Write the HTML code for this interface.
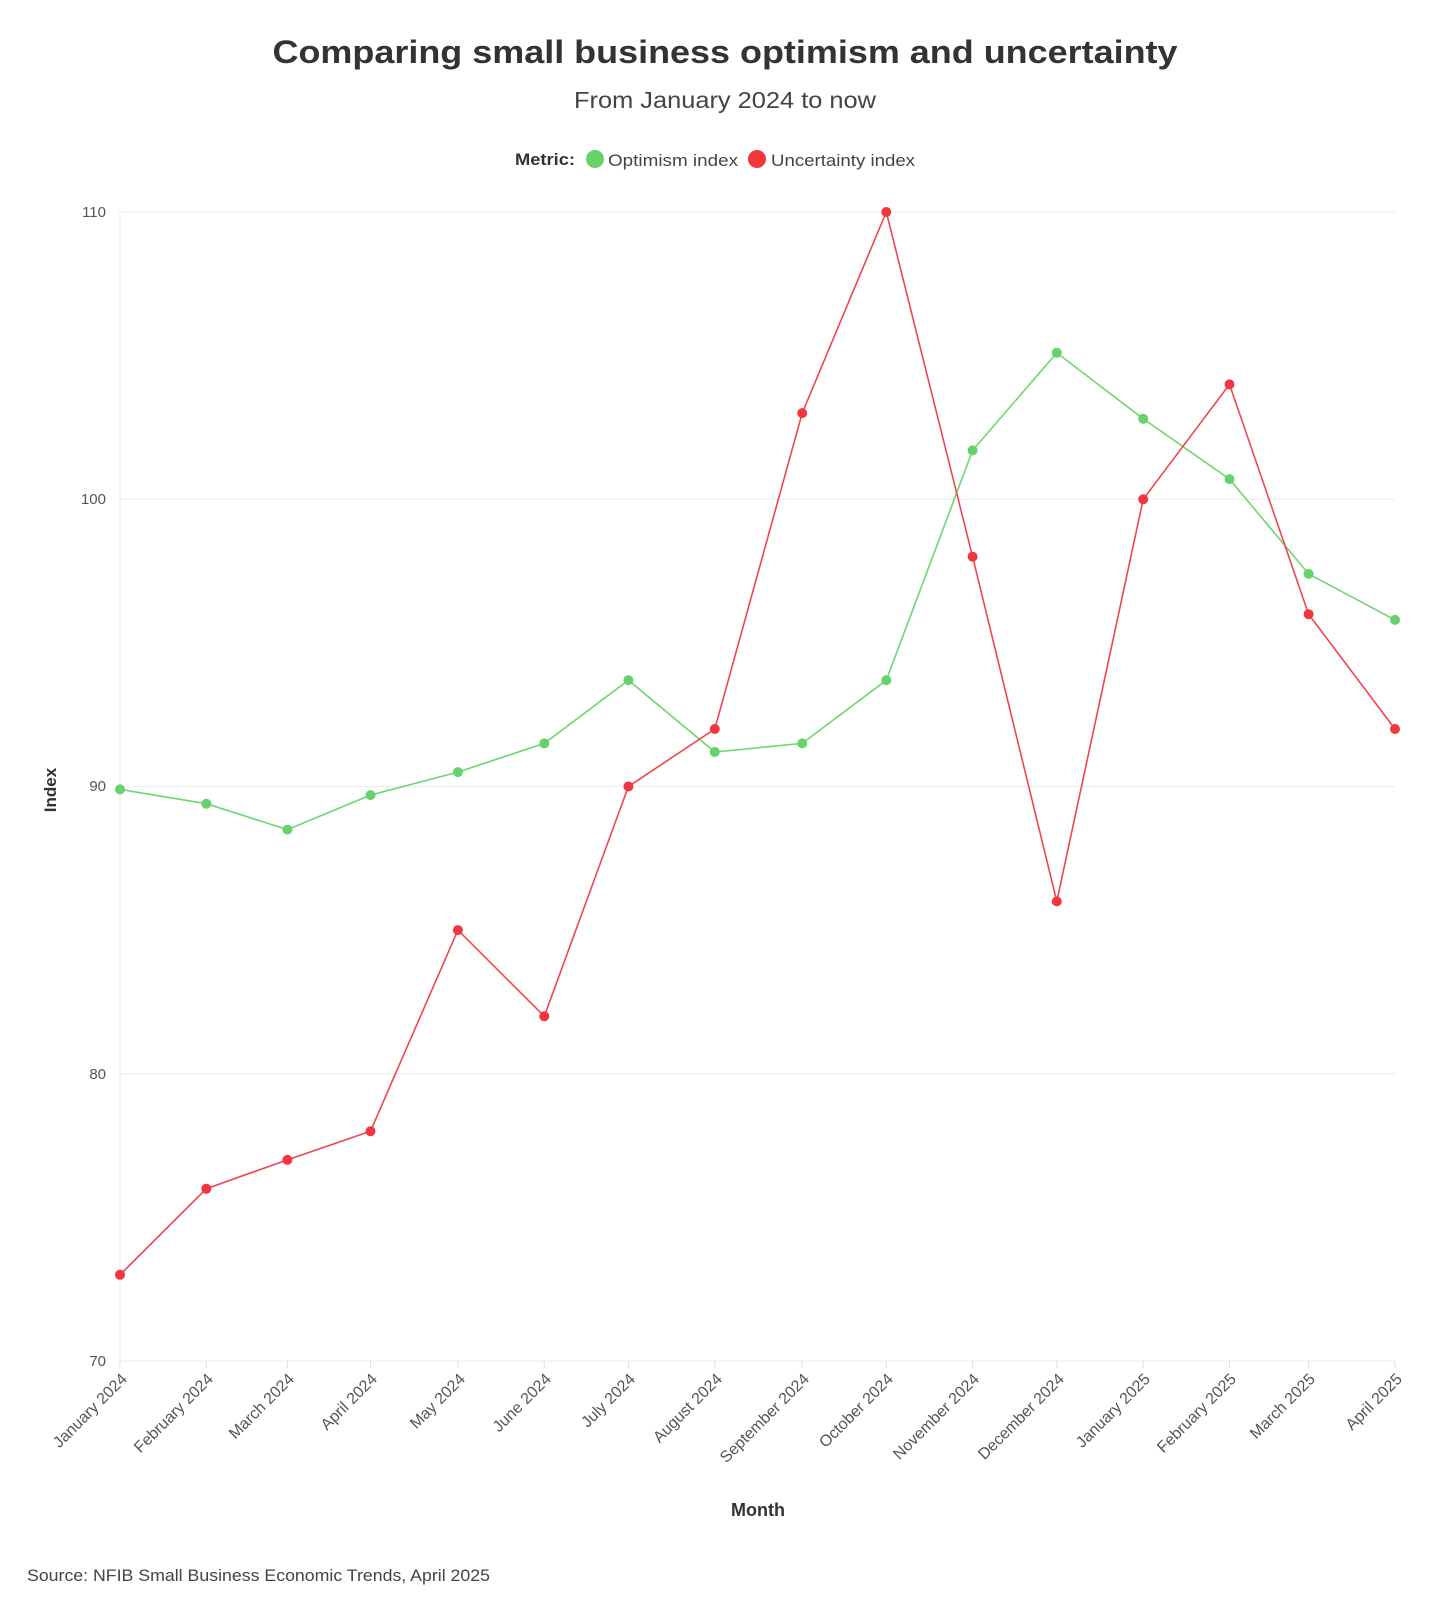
<!DOCTYPE html>
<html><head><meta charset="utf-8"><style>
html,body{margin:0;padding:0;background:#fff;}
svg{display:block;font-family:"Liberation Sans",sans-serif;}
</style></head><body>
<svg width="1440" height="1610" viewBox="0 0 1440 1610" xmlns="http://www.w3.org/2000/svg">
<text x="725" y="63" text-anchor="middle" font-size="32" font-weight="bold" fill="#333" textLength="905" lengthAdjust="spacingAndGlyphs">Comparing small business optimism and uncertainty</text>
<text x="725" y="108" text-anchor="middle" font-size="23" fill="#444" textLength="302" lengthAdjust="spacingAndGlyphs">From January 2024 to now</text>
<text x="515" y="165" font-size="17" font-weight="bold" fill="#333" textLength="60" lengthAdjust="spacingAndGlyphs">Metric:</text>
<circle cx="595" cy="159" r="9" fill="#67d16b"/>
<text x="608" y="166" font-size="17" fill="#444" textLength="130" lengthAdjust="spacingAndGlyphs">Optimism index</text>
<circle cx="757" cy="159" r="9" fill="#f2353f"/>
<text x="771" y="166" font-size="17" fill="#444" textLength="144" lengthAdjust="spacingAndGlyphs">Uncertainty index</text>
<g stroke="#ebebeb" stroke-width="1">
<line x1="120" y1="212" x2="1395" y2="212"/>
<line x1="120" y1="499.3" x2="1395" y2="499.3"/>
<line x1="120" y1="786.5" x2="1395" y2="786.5"/>
<line x1="120" y1="1073.8" x2="1395" y2="1073.8"/>
<line x1="120" y1="1361" x2="1395" y2="1361"/>
<line x1="120" y1="212" x2="120" y2="1361"/>
</g>
<g font-size="15" fill="#555" text-anchor="end">
<text x="106" y="217">110</text><text x="106" y="504">100</text><text x="106" y="791">90</text><text x="106" y="1079">80</text><text x="106" y="1366">70</text>
</g>
<text transform="translate(56,790) rotate(-90)" text-anchor="middle" font-size="17" font-weight="bold" fill="#333">Index</text>
<g stroke="#e0e0e0">
<line x1="120" y1="1361" x2="120" y2="1368"/><line x1="206.3" y1="1361" x2="206.3" y2="1368"/><line x1="287.4" y1="1361" x2="287.4" y2="1368"/><line x1="370.5" y1="1361" x2="370.5" y2="1368"/><line x1="457.9" y1="1361" x2="457.9" y2="1368"/><line x1="544.3" y1="1361" x2="544.3" y2="1368"/><line x1="628.4" y1="1361" x2="628.4" y2="1368"/><line x1="714.8" y1="1361" x2="714.8" y2="1368"/><line x1="802.2" y1="1361" x2="802.2" y2="1368"/><line x1="886.3" y1="1361" x2="886.3" y2="1368"/><line x1="972.6" y1="1361" x2="972.6" y2="1368"/><line x1="1056.8" y1="1361" x2="1056.8" y2="1368"/><line x1="1143.2" y1="1361" x2="1143.2" y2="1368"/><line x1="1229.5" y1="1361" x2="1229.5" y2="1368"/><line x1="1308.6" y1="1361" x2="1308.6" y2="1368"/><line x1="1395" y1="1361" x2="1395" y2="1368"/>
</g>
<g font-size="16" fill="#555" text-anchor="end">
<text transform="translate(128,1380) rotate(-45)">January 2024</text>
<text transform="translate(214,1380) rotate(-45)">February 2024</text>
<text transform="translate(295,1380) rotate(-45)">March 2024</text>
<text transform="translate(378,1380) rotate(-45)">April 2024</text>
<text transform="translate(466,1380) rotate(-45)">May 2024</text>
<text transform="translate(552,1380) rotate(-45)">June 2024</text>
<text transform="translate(636,1380) rotate(-45)">July 2024</text>
<text transform="translate(723,1380) rotate(-45)">August 2024</text>
<text transform="translate(810,1380) rotate(-45)">September 2024</text>
<text transform="translate(894,1380) rotate(-45)">October 2024</text>
<text transform="translate(980,1380) rotate(-45)">November 2024</text>
<text transform="translate(1065,1380) rotate(-45)">December 2024</text>
<text transform="translate(1151,1380) rotate(-45)">January 2025</text>
<text transform="translate(1237,1380) rotate(-45)">February 2025</text>
<text transform="translate(1316,1380) rotate(-45)">March 2025</text>
<text transform="translate(1403,1380) rotate(-45)">April 2025</text>
</g>
<text x="758" y="1516" text-anchor="middle" font-size="18" font-weight="bold" fill="#333">Month</text>
<text x="27" y="1581" font-size="17" fill="#444" textLength="463" lengthAdjust="spacingAndGlyphs">Source: NFIB Small Business Economic Trends, April 2025</text>
<polyline fill="none" stroke="#6fd66f" stroke-width="1.6" points="120,789.4 206.3,803.7 287.4,829.6 370.5,795.1 457.9,772.1 544.3,743.4 628.4,680.2 714.8,752 802.2,743.4 886.3,680.2 972.6,450.4 1056.8,352.8 1143.2,418.8 1229.5,479.1 1308.6,573.9 1395,619.9"/>
<polyline fill="none" stroke="#f0454f" stroke-width="1.6" points="120,1274.8 206.3,1188.7 287.4,1159.9 370.5,1131.2 457.9,930.1 544.3,1016.3 628.4,786.5 714.8,729 802.2,413.1 886.3,212 972.6,556.7 1056.8,901.4 1143.2,499.3 1229.5,384.4 1308.6,614.2 1395,729"/>
<g fill="#67d16b">
<circle cx="120" cy="789.4" r="5"/><circle cx="206.3" cy="803.7" r="5"/><circle cx="287.4" cy="829.6" r="5"/><circle cx="370.5" cy="795.1" r="5"/><circle cx="457.9" cy="772.1" r="5"/><circle cx="544.3" cy="743.4" r="5"/><circle cx="628.4" cy="680.2" r="5"/><circle cx="714.8" cy="752" r="5"/><circle cx="802.2" cy="743.4" r="5"/><circle cx="886.3" cy="680.2" r="5"/><circle cx="972.6" cy="450.4" r="5"/><circle cx="1056.8" cy="352.8" r="5"/><circle cx="1143.2" cy="418.8" r="5"/><circle cx="1229.5" cy="479.1" r="5"/><circle cx="1308.6" cy="573.9" r="5"/><circle cx="1395" cy="619.9" r="5"/>
</g>
<g fill="#f2353f">
<circle cx="120" cy="1274.8" r="5"/><circle cx="206.3" cy="1188.7" r="5"/><circle cx="287.4" cy="1159.9" r="5"/><circle cx="370.5" cy="1131.2" r="5"/><circle cx="457.9" cy="930.1" r="5"/><circle cx="544.3" cy="1016.3" r="5"/><circle cx="628.4" cy="786.5" r="5"/><circle cx="714.8" cy="729" r="5"/><circle cx="802.2" cy="413.1" r="5"/><circle cx="886.3" cy="212" r="5"/><circle cx="972.6" cy="556.7" r="5"/><circle cx="1056.8" cy="901.4" r="5"/><circle cx="1143.2" cy="499.3" r="5"/><circle cx="1229.5" cy="384.4" r="5"/><circle cx="1308.6" cy="614.2" r="5"/><circle cx="1395" cy="729" r="5"/>
</g>
</svg>
</body></html>
